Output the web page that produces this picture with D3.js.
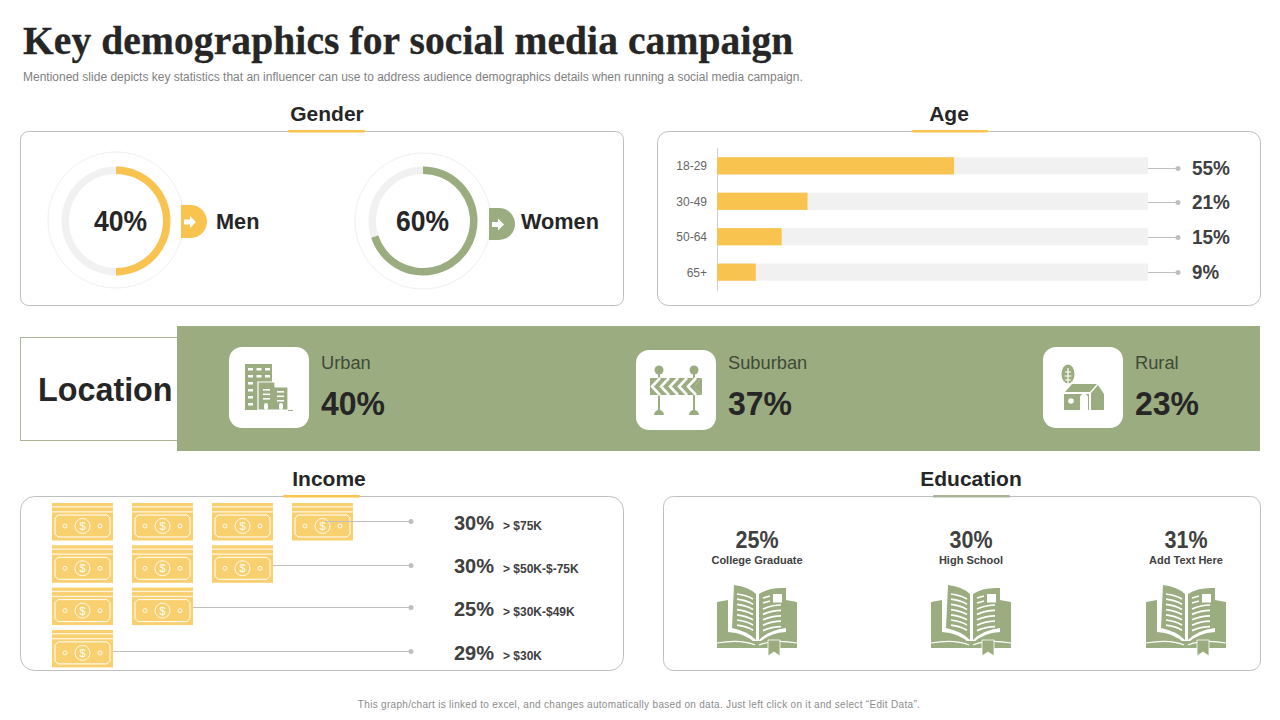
<!DOCTYPE html>
<html>
<head>
<meta charset="utf-8">
<script src="https://cdn.jsdelivr.net/npm/d3@7"></script>
<style>
  html, body { margin: 0; padding: 0; background: #fff; }
  svg { display: block; }
  text { font-family: "Liberation Sans", Arial, sans-serif; }
</style>
</head>
<body>
<div id="chart"></div>
<script>
// Data
const genderLabels = ["Men", "Women"];
const genderValues = [40, 60];
// the rings on the slide are not drawn to their printed labels
const genderArcs = [50, 70];
const ageLabels = ["18-29", "30-49", "50-64", "65+"];
const ageValues = [55, 21, 15, 9];
const locationLabels = ["Urban", "Suburban", "Rural"];
const locationValues = [40, 37, 23];
const incomeLabels = ["> $75K", "> $50K-$-75K", "> $30K-$49K", "> $30K"];
const incomeValues = [30, 30, 25, 29];
const incomeNotes = [4, 3, 2, 1];
const educationLabels = ["College Graduate", "High School", "Add Text Here"];
const educationValues = [25, 30, 31];

const yellow = "#F8C44F";
const noteYellow = "#F9D06F";
const green = "#9BAD80";
const track = "#F1F1F1";
const ink = "#262626";
const grey = "#404040";
const rule = "#BFBFBF";

const svg = d3.select("#chart").append("svg").attr("width", 1280).attr("height", 720);

const addText = (g, x, y, str, size, opts = {}) => {
  const t = g.append("text")
    .attr("x", x).attr("y", y).text(str)
    .attr("font-size", size)
    .attr("font-weight", opts.weight || "normal")
    .attr("fill", opts.fill || ink)
    .attr("text-anchor", opts.anchor || "start")
    .attr("letter-spacing", opts.spacing || null)
    .style("font-family", opts.family || null);
  // the slide's percentages are set narrower than Liberation Sans
  if (opts.len) t.attr("textLength", opts.len).attr("lengthAdjust", "spacingAndGlyphs");
  return t;
};

// Title block
addText(svg, 23, 54, "Key demographics for social media campaign", 39.5, {
  weight: "bold", family: "'Liberation Serif', serif", spacing: "0.1px"
}).attr("stroke", ink).attr("stroke-width", 0.3);
addText(svg, 23, 81, "Mentioned slide depicts key statistics that an influencer can use to address audience demographics details when running a social media campaign.", 12, { fill: "#7F7F7F" });
addText(svg, 639, 708, "This graph/chart is linked to excel, and changes automatically based on data. Just left click on it and select \u201CEdit Data\u201D.", 10, { fill: "#8C8C8C", anchor: "middle", spacing: "0.31px" });

// Rounded panels with their headings
const panels = [
  { name: "Gender", x: 20.5, y: 131.5, w: 603, h: 174, r: 8, cx: 327, tx: 288, tw: 77, ty: 120, c: yellow },
  { name: "Age", x: 657.5, y: 131.5, w: 603, h: 174, r: 11, cx: 949, tx: 912, tw: 76, ty: 120, c: yellow },
  { name: "Income", x: 20.5, y: 496.5, w: 603, h: 174, r: 14, cx: 329, tx: 283, tw: 77, ty: 485, c: yellow },
  { name: "Education", x: 663.5, y: 496.5, w: 597, h: 174, r: 10, cx: 971, tx: 933, tw: 77, ty: 485, c: "#A9B596" }
];
panels.forEach(p => {
  svg.append("rect").attr("x", p.x).attr("y", p.y).attr("width", p.w).attr("height", p.h)
    .attr("rx", p.r).attr("fill", "#fff").attr("stroke", rule).attr("stroke-width", 1);
  svg.append("rect").attr("x", p.tx).attr("y", p.y - 1.5).attr("width", p.tw).attr("height", 2.5)
    .attr("rx", 1).attr("fill", p.c);
  addText(svg, p.cx, p.ty + 1, p.name, 21, { weight: "bold", anchor: "middle" });
});

// Gender rings
const angle = d3.scaleLinear().domain([0, 100]).range([0, 2 * Math.PI]);
const ring = d3.arc().innerRadius(47).outerRadius(54.5);
const ringLayout = [
  { cx: 116, cy: 221, halo: [116, 220], pctX: 120.5, tagX: 181, tagY: 205, tagH: 33, labelX: 216 },
  { cx: 423, cy: 221, halo: [423, 221], pctX: 422.5, tagX: 489, tagY: 208, tagH: 32, labelX: 521 }
];
genderValues.forEach((v, i) => {
  const l = ringLayout[i];
  const col = i === 0 ? yellow : green;
  svg.append("circle").attr("cx", l.halo[0]).attr("cy", l.halo[1]).attr("r", 68)
    .attr("fill", "#fff").attr("stroke", "#EFEFEF");
  const g = svg.append("g").attr("transform", `translate(${l.cx},${l.cy})`);
  g.append("path").attr("d", ring({ startAngle: 0, endAngle: 2 * Math.PI })).attr("fill", track);
  g.append("path").attr("d", ring({ startAngle: 0, endAngle: angle(genderArcs[i]) })).attr("fill", col);
  addText(svg, l.pctX, l.cy + 10, v + "%", 29, { weight: "bold", anchor: "middle", len: 53 });
  // arrow tag
  const r = l.tagH / 2;
  svg.append("path")
    .attr("d", `M${l.tagX},${l.tagY}h${26 - r}a${r},${r} 0 0 1 0,${l.tagH}h${r - 26}z`)
    .attr("fill", col);
  const ax = l.tagX + 3, ay = l.tagY + r;
  svg.append("path")
    .attr("d", `M${ax},${ay - 2.5}h6v-3.5l6,6l-6,6v-3.5h-6z`)
    .attr("transform", "translate(0,0.5)")
    .attr("fill", "#fff");
  addText(svg, l.labelX, l.cy + 8, genderLabels[i], 21.7, { weight: "bold" });
});

// Age bars
const ageX = d3.scaleLinear().domain([0, 100]).range([717, 1148]);
const ageY = d3.scaleBand().domain(ageLabels).range([148, 290]).paddingInner(0.515).paddingOuter(0.26);
const ageTextY = [168, 202, 237, 272];
svg.append("line").attr("x1", 717.5).attr("x2", 717.5).attr("y1", 148).attr("y2", 291)
  .attr("stroke", "#CFCFCF");
ageLabels.forEach((lab, i) => {
  const y = ageY(lab), h = ageY.bandwidth();
  svg.append("rect").attr("x", ageX(0)).attr("y", y).attr("width", ageX(100) - ageX(0)).attr("height", h).attr("fill", track);
  svg.append("rect").attr("x", ageX(0)).attr("y", y).attr("width", ageX(ageValues[i]) - ageX(0)).attr("height", h).attr("fill", yellow);
  addText(svg, 707, y + h / 2 + 4.5, lab, 12, { fill: "#666", anchor: "end" });
  svg.append("line").attr("x1", ageX(100)).attr("x2", 1178).attr("y1", ageTextY[i] + 0.5).attr("y2", ageTextY[i] + 0.5).attr("stroke", rule);
  svg.append("circle").attr("cx", 1178).attr("cy", ageTextY[i] + 0.5).attr("r", 2.5).attr("fill", rule);
  addText(svg, 1192, ageTextY[i] + 7, ageValues[i] + "%", 20, { weight: "bold", fill: grey, len: ageValues[i] < 10 ? 27 : 38 });
});

// Location band
svg.append("rect").attr("x", 20.5).attr("y", 337.5).attr("width", 160).attr("height", 103)
  .attr("fill", "#fff").attr("stroke", "#A9B596");
svg.append("rect").attr("x", 177).attr("y", 326).attr("width", 1083).attr("height", 125).attr("fill", green);
addText(svg, 38, 401, "Location", 32.3, { weight: "bold" });

const drawBuildings = g => {
  g.append("rect").attr("x", 16).attr("y", 17).attr("width", 27).attr("height", 46).attr("fill", green);
  [0, 1, 2, 3, 4, 5].forEach(r => [0, 1, 2].forEach(c => {
    if (r > 1 && c > 0) return;
    g.append("rect").attr("x", 19 + c * 8.5).attr("y", 21 + r * 7).attr("width", 5).attr("height", 2.5).attr("fill", "#fff");
  }));
  g.append("path").attr("d", "M29,35h17v5h13v23h-30z").attr("fill", green).attr("stroke", "#fff").attr("stroke-width", 1.2);
  [0, 1, 2].forEach(r => {
    g.append("rect").attr("x", 34).attr("y", 42 + r * 4.5).attr("width", 7).attr("height", 1.6).attr("fill", "#fff");
    g.append("rect").attr("x", 48).attr("y", 44 + r * 4.5).attr("width", 7).attr("height", 1.6).attr("fill", "#fff");
  });
  g.append("rect").attr("x", 35).attr("y", 56).attr("width", 4).attr("height", 7).attr("rx", 2).attr("fill", "#fff");
  g.append("rect").attr("x", 50).attr("y", 56).attr("width", 4).attr("height", 7).attr("rx", 2).attr("fill", "#fff");
  g.append("line").attr("x1", 59).attr("x2", 64).attr("y1", 63.5).attr("y2", 63.5).attr("stroke", green);
};

const drawBarrier = g => {
  [23, 58].forEach(x => {
    g.append("circle").attr("cx", x).attr("cy", 20).attr("r", 4.5).attr("fill", green);
    g.append("rect").attr("x", x - 1).attr("y", 20).attr("width", 2).attr("height", 42).attr("fill", green);
    g.append("path").attr("d", `M${x - 5},65a5,5 0 0 1 10,0z`).attr("fill", green);
  });
  g.append("path").attr("d", "M14,28H66L58,36.5L66,45H14z").attr("fill", green);
  [24, 33, 42, 51, 60].forEach(x => {
    g.append("path").attr("d", `M${x},28l-8,8.5l8,8.5`).attr("fill", "none").attr("stroke", "#fff").attr("stroke-width", 2.6);
  });
  g.append("path").attr("d", "M66,28v17l-8,-8.5z").attr("fill", green);
};

const drawHouse = g => {
  g.append("ellipse").attr("cx", 25).attr("cy", 27).attr("rx", 6.5).attr("ry", 9.5).attr("fill", green);
  g.append("path").attr("d", "M25,21V37M22,25h6M21.5,29h7M22,33h6").attr("stroke", "#fff").attr("stroke-width", 1.2).attr("fill", "none");
  g.append("path").attr("d", "M22,45L29,37H54L47,45z").attr("fill", green);
  g.append("path").attr("d", "M55,38L61,47V63H48V46z").attr("fill", green);
  g.append("path").attr("d", "M21,47H46V63H21z").attr("fill", green);
  g.append("path").attr("d", "M37,63V51a4,4 0 0 1 8,0V63z").attr("fill", "#fff");
  g.append("circle").attr("cx", 28).attr("cy", 54).attr("r", 2.8).attr("fill", "#fff");
};

const locationLayout = [
  { x: 229, y: 347, h: 81, tx: 321, ly: 369, vy: 415, icon: drawBuildings },
  { x: 636, y: 350, h: 80, tx: 728, ly: 369, vy: 415, icon: drawBarrier },
  { x: 1043, y: 347, h: 81, tx: 1135, ly: 369, vy: 415, icon: drawHouse }
];
locationLabels.forEach((lab, i) => {
  const l = locationLayout[i];
  svg.append("rect").attr("x", l.x).attr("y", l.y).attr("width", 80).attr("height", l.h).attr("rx", 13).attr("fill", "#fff");
  l.icon(svg.append("g").attr("transform", `translate(${l.x},${l.y})`));
  addText(svg, l.tx, l.ly, lab, 18.3, { fill: "#3F4A38" });
  addText(svg, l.tx, l.vy, locationValues[i] + "%", 34, { weight: "bold", len: 64 });
});

// Income pictogram
const noteX = d3.scaleBand().domain(d3.range(4)).range([52, 353]).paddingInner(0.2375);
const noteY = d3.scaleBand().domain(d3.range(4)).range([503, 667]).paddingInner(0.123);
const drawNote = g => {
  g.append("rect").attr("width", 61).attr("height", 37.5).attr("fill", noteYellow);
  [3.2, 8.2].forEach(y => g.append("rect").attr("y", y).attr("width", 61).attr("height", 1.3).attr("fill", "#fff").attr("opacity", 0.75));
  g.append("path").attr("d", "M6,12H55L58,15V31L55,34H6L3,31V15z").attr("fill", "none").attr("stroke", "#fff").attr("stroke-width", 1);
  g.append("circle").attr("cx", 30.5).attr("cy", 23).attr("r", 7.5).attr("fill", "none").attr("stroke", "#fff").attr("stroke-width", 0.9);
  [13, 48].forEach(x => g.append("circle").attr("cx", x).attr("cy", 23).attr("r", 2).attr("fill", "none").attr("stroke", "#fff").attr("stroke-width", 0.9));
  g.append("text").attr("x", 30.5).attr("y", 27).attr("text-anchor", "middle").attr("font-size", 11).attr("fill", "#fff").text("$");
};
const incomeLineY = [521.5, 565.5, 607.5, 651.5];
const incomeLineX = [325, 273, 193, 113];
const incomeTextY = [530, 573, 616, 660];
incomeNotes.forEach((n, row) => {
  d3.range(n).forEach(c => drawNote(svg.append("g").attr("transform", `translate(${noteX(c)},${noteY(row)})`)));
  svg.append("line").attr("x1", incomeLineX[row]).attr("x2", 411).attr("y1", incomeLineY[row]).attr("y2", incomeLineY[row]).attr("stroke", rule);
  svg.append("circle").attr("cx", 411).attr("cy", incomeLineY[row]).attr("r", 2.5).attr("fill", rule);
  addText(svg, 454, incomeTextY[row], incomeValues[row] + "%", 20, { weight: "bold", fill: grey });
  addText(svg, 503, incomeTextY[row] - 0.5, incomeLabels[row], 12, { weight: "bold", fill: grey });
});

// Education
const eduX = [757, 971, 1186];
const drawBook = g => {
  g.append("path").attr("d", "M0,17L11,15V47Q28,48 38,58H0z").attr("fill", green);
  g.append("path").attr("d", "M0,63H51V56H0z").attr("fill", green);
  g.append("path").attr("d", "M80,17L69,15V47Q52,48 42,58H80z").attr("fill", green);
  g.append("path").attr("d", "M51,63H80V56H51z").attr("fill", green);
  g.append("path").attr("d", "M0,58Q24,54 38,60").attr("fill", "none").attr("stroke", "#fff").attr("stroke-width", 1.2);
  g.append("path").attr("d", "M80,58Q56,54 42,60").attr("fill", "none").attr("stroke", "#fff").attr("stroke-width", 1.2);
  g.append("path").attr("d", "M17,0Q32,2 39,9V55Q30,46 15,43z").attr("fill", green);
  g.append("path").attr("d", "M42,9Q52,2 69,3V43Q52,45 42,55z").attr("fill", green);
  [0, 1, 2, 3, 4, 5, 6].forEach(i => {
    g.append("path").attr("d", `M20,${9 + i * 5.2}Q29,${10 + i * 5.2} 36,${14 + i * 5.2}`).attr("fill", "none").attr("stroke", "#fff").attr("stroke-width", 1.7);
  });
  [0, 1, 2, 3, 4].forEach(i => {
    g.append("path").attr("d", `M46,${24 + i * 5.4}Q55,${20 + i * 5.4} 64,${20 + i * 5.4}`).attr("fill", "none").attr("stroke", "#fff").attr("stroke-width", 1.7);
  });
  g.append("path").attr("d", "M46,13l7,-2M46,18l7,-2").attr("fill", "none").attr("stroke", "#fff").attr("stroke-width", 1.7);
  g.append("rect").attr("x", 56).attr("y", 9).attr("width", 9).attr("height", 8.5).attr("fill", "#fff");
  g.append("path").attr("d", "M51,55H63V71L57,67L51,71z").attr("fill", green).attr("stroke", "#fff").attr("stroke-width", 0.8);
};
educationLabels.forEach((lab, i) => {
  addText(svg, eduX[i], 548, educationValues[i] + "%", 24, { weight: "bold", fill: grey, anchor: "middle", len: 43 });
  addText(svg, eduX[i], 564, lab, 11, { weight: "bold", fill: grey, anchor: "middle" });
  drawBook(svg.append("g").attr("transform", `translate(${eduX[i] - 40},585)`));
});
</script>
</body>
</html>
